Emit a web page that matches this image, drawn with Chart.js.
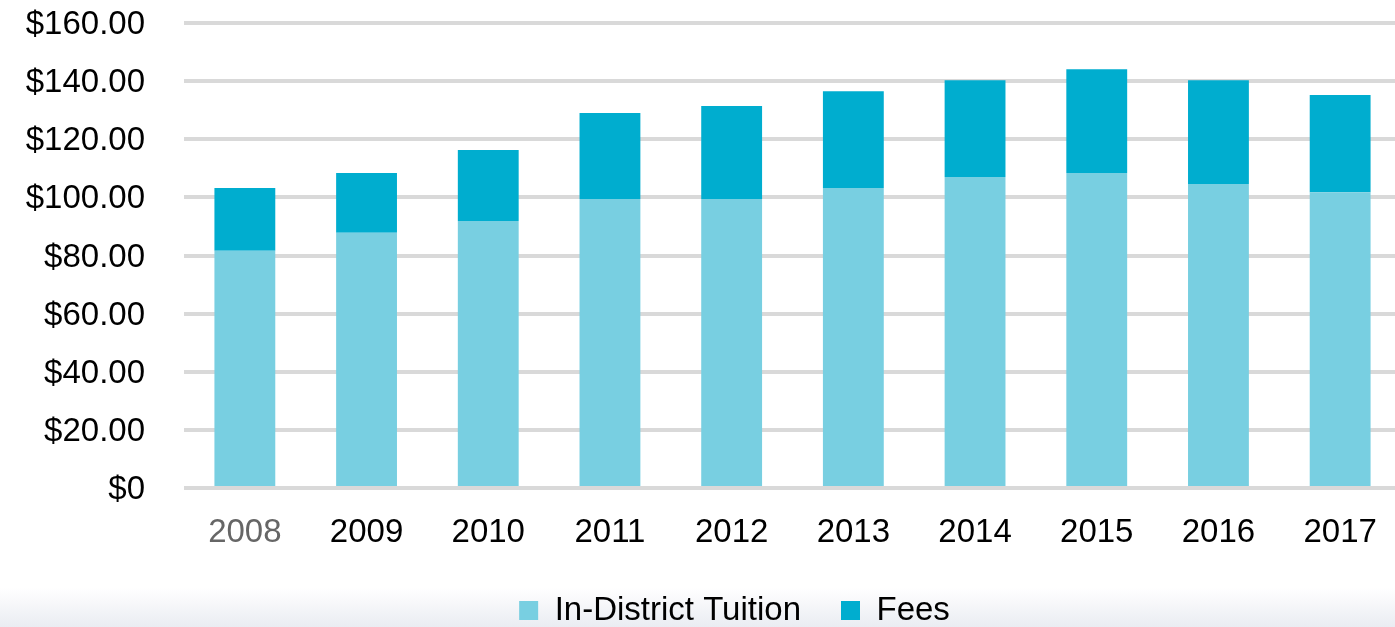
<!DOCTYPE html>
<html>
<head>
<meta charset="utf-8">
<script src="https://cdn.jsdelivr.net/npm/chart.js@4/dist/chart.umd.min.js"></script>
<style>
  html, body { margin: 0; padding: 0; background: #fff; overflow: hidden; }
  #wrap { width: 1401px; height: 627px; position: relative; }
</style>
</head>
<body>
<div id="wrap"><canvas id="chart"></canvas></div>
<script>
const years = ['2008', '2009', '2010', '2011', '2012', '2013', '2014', '2015', '2016', '2017'];
const tuition = [81.6, 87.8, 91.9, 99.4, 99.4, 103.2, 107.0, 108.4, 104.6, 101.8];
const fees = [21.6, 20.6, 24.4, 29.6, 32.0, 33.3, 33.3, 35.7, 35.7, 33.4];
const seriesNames = ['In-District Tuition', 'Fees'];

// light grey band behind the legend
const band = {
    id: 'band',
    beforeDraw(chart) {
        const ctx = chart.ctx;
        const g = ctx.createLinearGradient(0, 588, 0, 627);
        g.addColorStop(0, '#ffffff');
        g.addColorStop(1, '#eaecf2');
        ctx.save();
        ctx.fillStyle = g;
        ctx.fillRect(0, 588, chart.width, 39);
        ctx.restore();
    }
};

// nudge the legend to where it sits in the original
const legendShift = {
    id: 'legendShift',
    afterLayout(chart) {
        const lg = chart.legend;
        lg.top -= 3; lg.bottom -= 3;
        lg.left += 34; lg.right += 34;
    }
};

new Chart(document.getElementById('chart'), {
    type: 'bar',
    data: {
        labels: years,
        datasets: [
            { label: seriesNames[0], data: tuition, backgroundColor: '#78cfe1' },
            { label: seriesNames[1], data: fees, backgroundColor: '#00adcf' }
        ]
    },
    options: {
        responsive: true,
        maintainAspectRatio: false,
        animation: false,
        layout: { autoPadding: false, padding: { top: 23, right: 0, left: 0, bottom: -13 } },
        datasets: { bar: { barPercentage: 0.5, categoryPercentage: 1 } },
        scales: {
            x: {
                stacked: true,
                grid: { display: false },
                border: { display: false },
                ticks: {
                    padding: 17,
                    font: { family: 'Liberation Sans', size: 33 },
                    color: (c) => c.index === 0 ? '#666666' : '#000000'
                },
                afterFit(s) {
                    s.height = 69;
                    s.paddingLeft = 0;
                    s.paddingRight = 0;
                }
            },
            y: {
                stacked: true,
                min: 0,
                max: 160,
                grid: { color: '#d9d9d9', lineWidth: 4, drawTicks: false },
                border: { display: false },
                ticks: {
                    stepSize: 20,
                    padding: 39,
                    labelOffset: 2,
                    color: '#000000',
                    font: { family: 'Liberation Sans', size: 33 },
                    callback: (v) => v === 0 ? '$0' : '$' + v.toFixed(2)
                },
                afterFit(s) {
                    s.width = 184;
                    s.paddingTop = 0;
                    s.paddingBottom = 0;
                }
            }
        },
        plugins: {
            legend: {
                position: 'bottom',
                labels: {
                    boxWidth: 19,
                    boxHeight: 19,
                    padding: 40,
                    color: '#000000',
                    font: { family: 'Liberation Sans', size: 33 }
                }
            },
            tooltip: { enabled: false }
        }
    },
    plugins: [band, legendShift]
});
</script>
</body>
</html>
